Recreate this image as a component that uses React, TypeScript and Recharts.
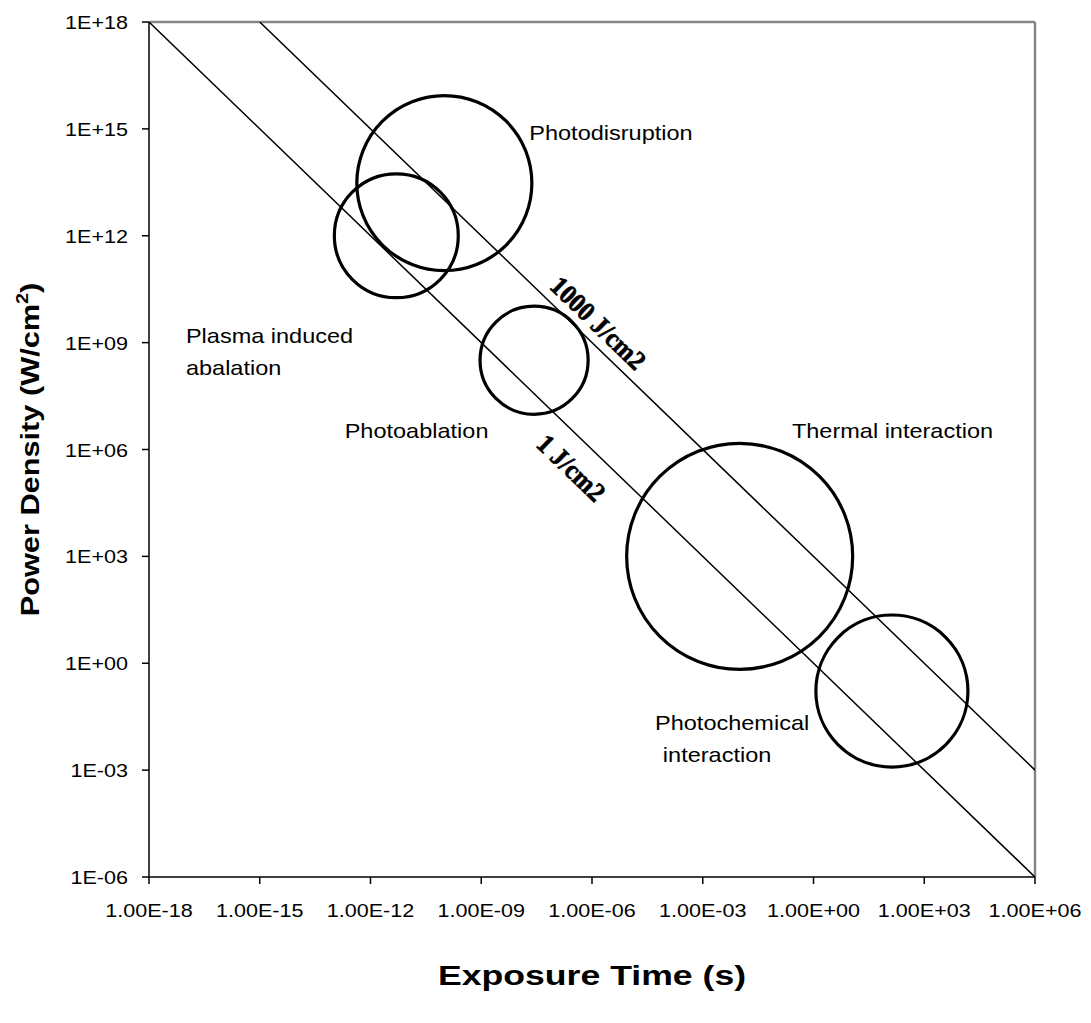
import React from "react";
import { ScatterChart, Scatter, XAxis, YAxis, ZAxis, ReferenceLine, Label } from "recharts";

// Axis ticks
const xTicks = [1e-18, 1e-15, 1e-12, 1e-9, 1e-6, 1e-3, 1, 1e3, 1e6];
const yTicks = [1e-6, 1e-3, 1, 1e3, 1e6, 1e9, 1e12, 1e15, 1e18];

// Interaction regions (exposure time s, power density W/cm2, relative size)
const regionNames = ["Photodisruption", "Plasma induced abalation", "Photoablation", "Thermal interaction", "Photochemical interaction"];
const regionTime = [1e-10, 5e-12, 2.7e-8, 1e-2, 133];
const regionPower = [3e13, 1e12, 3.2e8, 1e3, 0.166];
const regionSize = [76.6, 38.4, 29.2, 127.7, 57.8];

// Constant fluence lines
const fluenceOne = [
  { x: 1e-18, y: 1e18 },
  { x: 1e6, y: 1e-6 },
];
const fluenceThousand = [
  { x: 1e-15, y: 1e18 },
  { x: 1e6, y: 1e-3 },
];

// Text annotations
const noteTexts = ["Photodisruption", "Plasma induced", "abalation", "Photoablation", "Thermal interaction", "Photochemical", "interaction"];
const noteTime = [2e-8, 1e-17, 1e-17, 2.0e-13, 0.26, 5.1e-5, 8.3e-5];
const notePower = [5e14, 1e9, 1.2e8, 2.1e6, 2.1e6, 0.0135, 1.7e-3];

const lineLabelTexts = ["1000 J/cm2", "1 J/cm2"];
const lineLabelTime = [1.45e-6, 2.7e-7];
const lineLabelPower = [3.5e9, 3.0e5];

const bubbles = regionNames.map((n, i) => ({ name: n, x: regionTime[i], y: regionPower[i], z: regionSize[i] }));
const notes = noteTexts.map((t, i) => ({ text: t, x: noteTime[i], y: notePower[i] }));
const lineLabels = lineLabelTexts.map((t, i) => ({ text: t, x: lineLabelTime[i], y: lineLabelPower[i] }));

const SANS = "'Liberation Sans', Arial, sans-serif";
const SERIF = "'Liberation Serif', 'Times New Roman', serif";

const pad2 = (n: number) => (n < 10 ? "0" + n : "" + n);
const expOf = (v: number) => Math.round(Math.log10(v));
const fmtX = (v: number) => {
  const e = expOf(v);
  return "1.00E" + (e < 0 ? "-" : "+") + pad2(Math.abs(e));
};
const fmtY = (v: number) => {
  const e = expOf(v);
  return "1E" + (e < 0 ? "-" : "+") + pad2(Math.abs(e));
};

const XTick = (props: any) => {
  const { x, y, payload } = props;
  return (
    <g transform={`translate(${x},${y + 33})`}>
      <text transform="scale(1.16,1)" textAnchor="middle" fontSize={18.6} fontFamily={SANS} fill="#000">
        {fmtX(payload.value)}
      </text>
    </g>
  );
};

const YTick = (props: any) => {
  const { x, y, payload } = props;
  return (
    <g transform={`translate(${x - 14},${y + 7})`}>
      <text transform="scale(1.16,1)" textAnchor="end" fontSize={18.6} fontFamily={SANS} fill="#000">
        {fmtY(payload.value)}
      </text>
    </g>
  );
};

const Bubble = (props: any) => {
  const { cx, cy, size, width } = props;
  const r = size != null && !isNaN(size) ? Math.sqrt(size / Math.PI) : width / 2;
  return <circle cx={cx} cy={cy} r={r} fill="none" stroke="#000" strokeWidth={3.2} />;
};

const NoteShape = (props: any) => {
  const { cx, cy, payload } = props;
  return (
    <g transform={`translate(${cx},${cy})`}>
      <text transform="scale(1.12,1)" fontSize={21} fontFamily={SANS} fill="#000">
        {payload.text}
      </text>
    </g>
  );
};

const LineLabelShape = (props: any) => {
  const { cx, cy, payload } = props;
  return (
    <g transform={`translate(${cx},${cy}) rotate(44)`}>
      <text
        transform="scale(0.93,1)"
        textAnchor="middle"
        dominantBaseline="central"
        fontSize={27}
        fontWeight="bold"
        fontFamily={SERIF}
        fill="#000"
        stroke="#000"
        strokeWidth={0.7}
      >
        {payload.text}
      </text>
    </g>
  );
};

const NoShape = () => <g />;

const XTitle = (props: any) => {
  const vb = props.viewBox;
  const cx = vb.x + vb.width / 2;
  return (
    <g transform={`translate(${cx},${vb.y + 108})`}>
      <text transform="scale(1.32,1)" textAnchor="middle" fontSize={27} fontWeight="bold" fontFamily={SANS} fill="#000">
        Exposure Time (s)
      </text>
    </g>
  );
};

const YTitle = (props: any) => {
  const vb = props.viewBox;
  const cy = vb.y + vb.height / 2;
  return (
    <g transform={`translate(31,${cy}) rotate(-90)`}>
      <text transform="scale(1.16,1)" textAnchor="middle" fontSize={26.5} fontWeight="bold" fontFamily={SANS} fill="#000">
        Power Density (W/cm
        <tspan fontSize={17} dy={-11}>2</tspan>
        <tspan dy={11}>)</tspan>
      </text>
    </g>
  );
};

export default function App() {
  return (
    <div style={{ width: 1075, height: 1007, background: "#fff" }}>
      <ScatterChart width={1075} height={1007} margin={{ top: 14, right: 48, bottom: 0, left: 0 }}>
        <XAxis
          type="number"
          dataKey="x"
          scale="log"
          domain={[1e-18, 1e6]}
          ticks={xTicks}
          allowDataOverflow
          height={138}
          tickSize={7}
          tickMargin={0}
          tick={<XTick />}
          axisLine={{ stroke: "#000", strokeWidth: 1.5 }}
          tickLine={{ stroke: "#000", strokeWidth: 1.5 }}
          interval={0}
        >
          <Label content={<XTitle />} />
        </XAxis>
        <YAxis
          type="number"
          dataKey="y"
          scale="log"
          domain={[1e-6, 1e18]}
          ticks={yTicks}
          allowDataOverflow
          width={141}
          tickSize={7}
          tickMargin={0}
          tick={<YTick />}
          axisLine={{ stroke: "#000", strokeWidth: 1.5 }}
          tickLine={{ stroke: "#000", strokeWidth: 1.5 }}
          interval={0}
        >
          <Label content={<YTitle />} />
        </YAxis>
        <ZAxis zAxisId="bub" type="number" dataKey="z" domain={[0, 130]} range={[0, 13000 * Math.PI]} />
        <ReferenceLine y={1e18} stroke="#868686" strokeWidth={2.5} />
        <ReferenceLine x={1e6} stroke="#868686" strokeWidth={2.5} />
        <Scatter data={fluenceOne} line={{ stroke: "#000", strokeWidth: 1.5 }} shape={NoShape} isAnimationActive={false} />
        <Scatter data={fluenceThousand} line={{ stroke: "#000", strokeWidth: 1.5 }} shape={NoShape} isAnimationActive={false} />
        <Scatter data={bubbles} zAxisId="bub" shape={Bubble} isAnimationActive={false} />
        <Scatter data={notes} shape={NoteShape} isAnimationActive={false} />
        <Scatter data={lineLabels} shape={LineLabelShape} isAnimationActive={false} />
      </ScatterChart>
    </div>
  );
}
